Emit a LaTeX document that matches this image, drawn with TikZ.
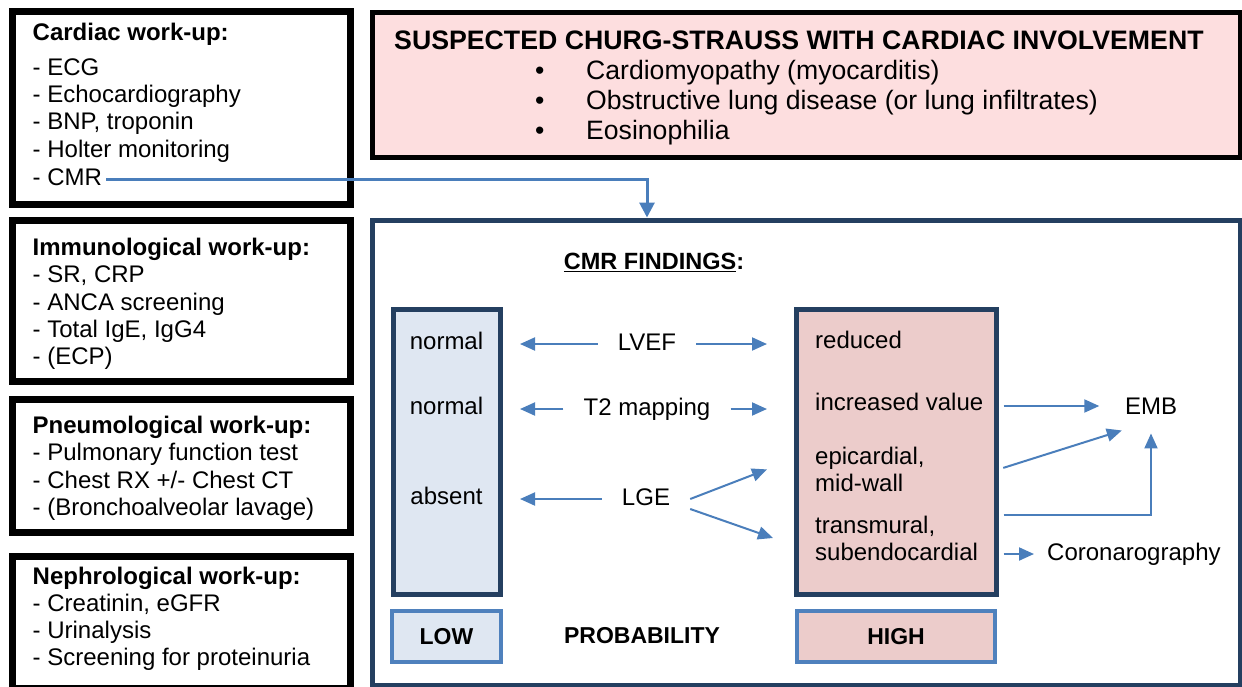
\documentclass[tikz,border=0pt]{standalone}
\usepackage{fontspec}
\setmainfont{Liberation Sans}
\usetikzlibrary{arrows.meta}
\definecolor{NavyLine}{HTML}{243F60}
\definecolor{ArrowBlue}{HTML}{4A7EBB}
\definecolor{FrameBlue}{HTML}{4F81BD}
\definecolor{SoftPink}{HTML}{FDDEDF}
\definecolor{LowFill}{HTML}{DFE7F2}
\definecolor{HighFill}{HTML}{ECCCCB}
\newcommand{\bodyfont}{\fontsize{24}{27.3}\selectfont}
\newcommand{\cuefont}{\fontsize{24}{27}\selectfont}

\begin{document}
\begin{tikzpicture}[
    x=1pt, y=-1pt,
    workbox/.style={
        draw=black,
        line width=7pt,
        minimum width=338pt,
        inner sep=0pt
    },
    worktext/.style={
        anchor=north west,
        align=left,
        inner sep=0pt,
        font=\bodyfont
    },
    panel/.style={
        draw=NavyLine,
        line width=5pt,
        inner sep=0pt
    },
    tagbox/.style={
        draw=FrameBlue,
        line width=4pt,
        minimum height=51pt,
        inner sep=0pt,
        font=\bfseries\fontsize{23}{27}\selectfont
    },
    cue/.style={
        font=\cuefont,
        inner ysep=0pt,
        inner xsep=20pt,
        text height=17pt,
        text depth=5pt
    },
    finding/.style={
        anchor=west,
        align=left,
        font=\cuefont,
        inner ysep=0pt,
        inner xsep=20pt
    },
    link/.style={
        draw=ArrowBlue,
        line width=2pt,
        -{Triangle[length=15pt,width=13pt]}
    }
]
\useasboundingbox (0,0) rectangle (1242,686);

% Work-up boxes on the left
\node[workbox, minimum height=192.5pt] (card) at (181,107.75) {};
\node[workbox, minimum height=161pt] (immu) at (181,300.5) {};
\node[workbox, minimum height=132.5pt] (pneu) at (181,465.75) {};
\node[workbox, minimum height=132pt] (neph) at (181,622) {};

\node[worktext] (cardtxt) at (32.5,22.6)
      {\textbf{Cardiac work-up:}\\[7.7pt]- ECG\\- Echocardiography\\- BNP, troponin\\- Holter monitoring};
\node[anchor=base west, inner sep=0pt, font=\bodyfont] (cmr) at (32.5,185) {- CMR};

\node[worktext] (immutxt) at (32.5,237.9)
      {\textbf{Immunological work-up:}\\- SR, CRP\\- ANCA screening\\- Total IgE, IgG4\\- (ECP)};

\node[worktext] (pneutxt) at (32.5,415.9)
      {\textbf{Pneumological work-up:}\\- Pulmonary function test\\- Chest RX +/- Chest CT\\- (Bronchoalveolar lavage)};

\node[worktext] (nephtxt) at (32.5,566.4)
      {\textbf{Nephrological work-up:}\\- Creatinin, eGFR\\- Urinalysis\\- Screening for proteinuria};

% Suspicion box
\node[draw=black, line width=5pt, fill=SoftPink,
      minimum width=868pt, minimum height=145.5pt] (susp) at (806,84.75) {};
\node[anchor=base west, inner sep=0pt,
      font=\bfseries\fontsize{26.7}{30}\selectfont] (title) at (394,49)
      {SUSPECTED CHURG-STRAUSS WITH CARDIAC INVOLVEMENT};
\node[anchor=north west, align=left, inner sep=0pt,
      font=\fontsize{26.6}{30}\selectfont] (signs) at (535,60.5)
      {\makebox[51pt][l]{\textbullet}Cardiomyopathy (myocarditis)\\
       \makebox[51pt][l]{\textbullet}Obstructive lung disease (or lung infiltrates)\\
       \makebox[51pt][l]{\textbullet}Eosinophilia};

% CMR panel
\node[panel, minimum width=868pt, minimum height=465pt] (cmrbox) at (806,452.5) {};
\node[inner sep=0pt, font=\bfseries\fontsize{23.5}{28}\selectfont] (find) at (654,262)
      {\underline{CMR FINDINGS}:};

\node[panel, fill=LowFill, minimum width=107pt, minimum height=285pt] (lowcol) at (446.5,451.5) {};
\node[panel, fill=HighFill, minimum width=200pt, minimum height=285pt] (highcol) at (896,451.5) {};

\node[tagbox, fill=LowFill, minimum width=109pt] (low) at (446.5,636.5) {LOW};
\node[tagbox, fill=HighFill, minimum width=198pt] (high) at (896,636.5) {HIGH};
\node[font=\bfseries\fontsize{23}{27}\selectfont] (prob) at (642,636) {PROBABILITY};

% Rows of findings
\node[cue] (norm1) at (446.5,343) {normal};
\node[cue] (norm2) at (446.5,408) {normal};
\node[cue] (absent) at (446.5,498) {absent};

\node[cue] (lvef) at (647,344) {LVEF};
\node[cue] (t2) at (647,409) {T2 mapping};
\node[cue] (lge) at (646,499) {LGE};

\node[finding] (red) at (795,339.5) {reduced};
\node[finding] (inc) at (795,402.4) {increased value};
\node[finding] (epi) at (795,469.4) {epicardial,\\mid-wall};
\node[finding] (trans) at (795,538) {transmural,\\subendocardial};

\node[inner sep=0pt, font=\cuefont] (emb) at (1151,406) {EMB};
\node[anchor=west, inner sep=0pt, font=\cuefont] (coro) at (1047,554) {Coronarography};

% Connectors
\draw[draw=ArrowBlue, line width=3pt, -{Triangle[length=15pt,width=15pt]}, shorten <=4pt]
      ([shift={(0,3)}]cmr.east) -| (lvef |- cmrbox.north);

\draw[link, shorten >=17.5pt] (lvef.west) -- (lowcol.east |- lvef.west);
\draw[link, shorten >=26.5pt] (lvef.east) -- (highcol.west |- lvef.east);
\draw[link, shorten >=17.5pt] (t2.west) -- (lowcol.east |- t2.west);
\draw[link, shorten >=26.5pt] (t2.east) -- (highcol.west |- t2.east);
\draw[link, shorten >=17.5pt] (lge.west) -- (lowcol.east |- lge.west);
\draw[link] (lge.east) -- ([xshift=-28pt]epi.west);
\draw[link] ([yshift=-10pt]lge.east) -- ([xshift=-22pt]trans.west);

\draw[link, shorten <=5pt, shorten >=25.5pt] (highcol.east |- emb.west) -- (emb.west);
\draw[link, shorten <=5pt] (highcol.east |- epi.east) -- ([shift={(-3,16)}]emb.south west);
\draw[link, shorten <=5pt, shorten >=19pt] (highcol.east |- trans.north) -| (emb.south);
\draw[link, shorten <=5pt, shorten >=13pt] (highcol.east |- coro.west) -- (coro.west);

\end{tikzpicture}
\end{document}
